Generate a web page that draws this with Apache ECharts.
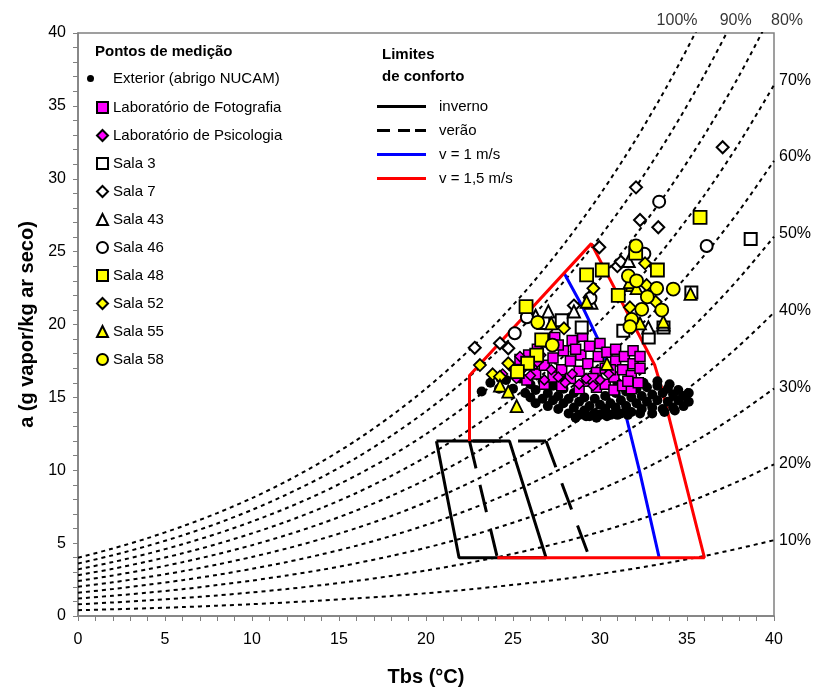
<!DOCTYPE html>
<html><head><meta charset="utf-8">
<script src="https://cdn.jsdelivr.net/npm/echarts@6/dist/echarts.min.js"></script>
<style>html,body{margin:0;padding:0;background:#fff}#c{width:819px;height:690px}</style>
</head><body><div id="c"></div>
<script>
// ---- psychrometric grid ----
const temps = [0,2,4,6,8,10,12,14,16,18,20,22,24,26,28,30,32,34,36,38,40];
const rh10  = [0.40,0.46,0.53,0.61,0.71,0.81,0.93,1.06,1.21,1.37,1.56,1.77,2.01,2.27,2.56,2.89,3.26,3.67,4.12,4.64,5.20];
const rh20  = [0.80,0.93,1.07,1.23,1.41,1.62,1.85,2.12,2.41,2.75,3.12,3.54,4.01,4.54,5.12,5.78,6.52,7.33,8.25,9.27,10.41];
const rh30  = [1.20,1.39,1.60,1.84,2.12,2.43,2.78,3.17,3.62,4.12,4.68,5.31,6.02,6.80,7.69,8.67,9.77,11.00,12.37,13.91,15.61];
const rh40  = [1.60,1.85,2.14,2.46,2.82,3.24,3.70,4.23,4.82,5.49,6.24,7.08,8.02,9.07,10.25,11.56,13.03,14.67,16.50,18.54,20.82];
const rh50  = [2.00,2.31,2.67,3.07,3.53,4.05,4.63,5.29,6.03,6.86,7.80,8.85,10.03,11.34,12.81,14.45,16.29,18.34,20.62,23.18,26.02];
const rh60  = [2.40,2.78,3.20,3.69,4.24,4.86,5.56,6.35,7.24,8.24,9.36,10.62,12.03,13.61,15.37,17.34,19.55,22.00,24.75,27.81,31.23];
const rh70  = [2.80,3.24,3.74,4.30,4.94,5.67,6.48,7.41,8.44,9.61,10.92,12.39,14.04,15.87,17.93,20.23,22.80,25.67,28.87,32.45,36.43];
const rh80  = [3.20,3.70,4.27,4.92,5.65,6.48,7.41,8.46,9.65,10.98,12.48,14.16,16.04,18.14,20.49,23.12,26.06,29.34,33.00,37.08,41.63];
const rh90  = [3.60,4.17,4.81,5.53,6.35,7.28,8.34,9.52,10.85,12.36,14.04,15.93,18.05,20.41,23.06,26.02,29.32,33.01,37.12,41.72,46.84];
const rh100 = [4.00,4.63,5.34,6.15,7.06,8.09,9.26,10.58,12.06,13.73,15.60,17.70,20.05,22.68,25.62,28.91,32.58,36.67,41.25,46.35,52.04];
const rhNames = ['10%','20%','30%','40%','50%','60%','70%','80%','90%','100%'];

// ---- comfort limits ----
const inverno = [[20.6,12],[24.8,12],[26.9,4],[21.9,4],[20.6,12]];
const veraoLeft = [[22.5,12],[24.1,4]];
const veraoRight = [[26.9,12],[29.4,4]];
const veraoTop = [[26.9,12],[22.5,12]];
const vento1 = [[27.95,23.5],[29.0,21.2],[30.0,18.7],[31.4,14.2],[32.3,9.8],[33.4,4.0]];
const vento15 = [[22.5,12],[22.5,16.5],[29.5,25.55],[33.15,17.2],[33.55,15.6],[36.0,4.0],[24.1,4.0]];

// ---- measurement points ----
const exterior = [[23.2,15.4],[23.7,16.0],[24.2,15.6],[24.6,16.2],[25.0,15.6],[25.4,16.3],[25.7,15.3],
 [26.0,15.0],[26.0,15.9],[26.3,14.6],[26.3,15.5],[26.7,14.9],[26.7,16.1],[27.0,14.4],[27.0,15.3],[27.3,14.8],[27.3,15.8],
 [27.6,14.2],[27.6,15.1],[27.9,14.6],[27.9,15.6],[28.2,13.9],[28.2,14.9],[28.5,14.3],[28.5,15.3],[28.8,13.8],[28.8,14.7],
 [29.1,14.1],[29.1,15.0],[29.4,13.7],[29.4,14.4],[29.7,13.9],[29.7,14.9],[30.0,13.8],[30.0,14.5],[30.3,14.2],[30.3,15.1],
 [30.6,13.8],[30.6,14.6],[30.9,14.3],[30.9,15.3],[31.2,13.9],[31.2,14.8],[31.5,14.4],[31.5,15.4],[31.8,14.0],[31.8,15.0],
 [32.1,14.6],[32.1,15.6],[32.4,14.2],[32.4,15.1],[32.7,14.7],[32.7,15.7],[33.0,14.3],[33.0,15.2],[33.3,14.8],[33.3,15.8],
 [33.6,14.2],[33.6,15.3],[33.9,14.7],[33.9,15.6],[34.2,14.3],[34.2,15.2],[34.5,14.8],[34.5,15.5],[34.8,14.4],[34.8,15.1],
 [35.1,14.7],[35.1,15.3],[28.6,13.6],[29.2,13.7],[29.8,13.6],[30.4,13.7],[31.0,13.8],[31.6,13.8],[32.3,13.9],[33.0,13.9],
 [33.7,14.0],[34.3,14.1],[31.0,16.0],[31.7,16.1],[32.5,16.0],[33.3,16.1],[34.0,15.9],[28.0,16.2],[29.2,16.1],[30.2,15.9]];
const labFoto = [[25.3,16.8],[25.4,17.6],[25.8,16.2],[25.9,17.9],[26.3,16.6],[26.4,18.3],[26.8,15.9],[26.8,17.2],[26.9,18.8],[27.3,16.4],
 [27.3,17.7],[27.4,19.1],[27.8,15.8],[27.8,16.9],[27.9,18.2],[28.3,16.3],[28.3,17.5],[28.4,18.9],[28.8,15.6],[28.8,16.8],
 [28.9,17.9],[29.0,19.2],[29.3,16.1],[29.3,17.3],[29.4,18.5],[29.8,15.7],[29.8,16.7],[29.9,17.8],[30.0,18.7],[30.3,15.9],
 [30.3,17.0],[30.4,18.1],[30.8,15.5],[30.8,16.4],[30.9,17.5],[30.9,18.3],[31.3,15.8],[31.3,16.9],[31.4,17.8],[31.8,15.6],
 [31.8,16.5],[31.9,17.3],[31.9,18.2],[32.2,16.0],[32.3,17.0],[32.3,17.8],[28.6,18.3],[27.6,18.6],[26.1,17.3],[29.6,16.3],
 [30.6,16.9],[31.6,16.1]];
const labPsico = [[24.4,16.6],[24.8,17.2],[25.2,16.3],[25.6,17.0],[26.0,16.5],[26.4,17.4],[26.8,16.2],[27.2,16.9],[27.6,16.4],
 [28.0,16.0],[28.4,16.6],[28.8,15.9],[29.2,16.3],[29.6,15.8],[30.0,16.2],[30.5,16.6],[25.4,17.8],[26.6,17.9]];
const sala3 = [[38.66,25.87],[27.8,20.3],[28.95,19.8],[31.34,19.57],[32.8,19.1],[33.65,19.8],[26.74,20.1],[35.25,22.2]];
const sala7 = [[37.05,32.16],[32.07,29.41],[32.3,27.17],[33.35,26.67],[29.96,25.3],[24.25,18.71],[24.73,18.37],[28.5,21.3],
 [31.0,24.0],[31.2,24.3],[22.8,18.4]];
const sala43 = [[27.03,20.9],[28.5,20.9],[31.65,24.35],[32.78,19.8],[33.65,20.0],[26.3,20.6],[29.5,21.5]];
const sala46 = [[33.4,28.43],[36.13,25.39],[32.55,24.85],[25.8,20.5],[25.1,19.4],[29.45,21.8]];
const sala48 = [[35.75,27.35],[29.23,23.4],[30.13,23.74],[33.3,23.74],[31.05,22.0],[32.05,24.9],[25.75,21.22],[26.65,18.94],
 [26.36,17.9],[25.84,17.34],[25.25,16.76]];
const sala52 = [[23.1,17.22],[23.83,16.58],[24.25,16.42],[24.73,17.34],[27.93,19.74],[29.62,22.48],[32.59,24.2],[32.68,22.7],
 [31.72,21.18],[33.2,21.56]];
const sala55 = [[24.25,15.8],[24.73,15.4],[25.21,14.4],[27.2,20.08],[29.23,21.56],[31.82,22.7],[32.3,20.08],[33.64,20.19],
 [35.2,22.1],[30.4,17.3],[31.7,22.9],[32.1,22.5]];
const sala58 = [[32.07,25.39],[31.63,23.33],[33.26,22.48],[34.21,22.43],[32.72,21.9],[32.4,21.04],[33.55,20.99],[31.82,20.35],
 [31.72,19.85],[26.42,20.15],[27.26,18.59],[32.1,23.0]];

const F = '"Liberation Sans", Arial, sans-serif';
const chart = echarts.init(document.getElementById('c'), null, {renderer:'canvas'});

const rhArrays = [rh10,rh20,rh30,rh40,rh50,rh60,rh70,rh80,rh90,rh100];
const endOffsets = [[0,0],[0,-1],[0,-1],[0,-2],[0,-3],[0,-4],[0,-4]];
const series = [];
rhArrays.forEach((arr,i)=>{
  const s = {
    type:'line', name: rhNames[i], data: temps.map((t,k)=>[t,arr[k]]),
    smooth:0.3, symbol:'none', silent:true, z:1,
    lineStyle:{color:'#000', width:2, type:[4,4]}
  };
  if (i < 7) s.endLabel = {show:true, formatter: rhNames[i], distance:5, offset:endOffsets[i], fontSize:16, fontFamily:F, color:'#000'};
  series.push(s);
});
// top labels for 100/90/80 %
series.push({type:'scatter', name:'rhTop', clip:false, silent:true, symbolSize:1, z:1,
  itemStyle:{color:'rgba(0,0,0,0)'},
  data:[{name:rhNames[9], value:[34.43,40.82]},{name:rhNames[8], value:[37.8,40.82]},{name:rhNames[7], value:[40.75,40.82]}],
  label:{show:true, position:'inside', formatter:p=>p.name, fontSize:16, fontFamily:F, color:'#000'}});

const lineBase = {type:'line', symbol:'none', silent:true, z:2};
const dashV = [28,17];
series.push(Object.assign({}, lineBase, {name:'inverno', data:inverno, itemStyle:{color:'#000'}, lineStyle:{color:'#000', width:3}}));
series.push(Object.assign({}, lineBase, {name:'verão', data:veraoLeft, itemStyle:{color:'#000'}, lineStyle:{color:'#000', width:3, type:dashV}}));
series.push(Object.assign({}, lineBase, {name:'verão', data:veraoRight, itemStyle:{color:'#000'}, lineStyle:{color:'#000', width:3, type:dashV}}));
series.push(Object.assign({}, lineBase, {name:'verão', data:veraoTop, itemStyle:{color:'#000'}, lineStyle:{color:'#000', width:3, type:dashV}}));
series.push(Object.assign({}, lineBase, {name:'v = 1 m/s', data:vento1, itemStyle:{color:'#0000ff'}, lineStyle:{color:'#0000ff', width:3}}));
series.push(Object.assign({}, lineBase, {name:'v = 1,5 m/s', data:vento15, itemStyle:{color:'#ff0000'}, lineStyle:{color:'#ff0000', width:3}}));

function sc(name, data, symbol, size, fill, bw){
  return {type:'scatter', name, data, symbol, symbolSize:size, z:3,
    itemStyle:{color:fill, borderColor:'#000', borderWidth:bw, opacity:1}};
}
series.push(sc('Exterior (abrigo NUCAM)', exterior, 'circle', 10, '#000', 0));
series.push(sc('Laboratório de Fotografia', labFoto, 'rect', 10, '#ff00ff', 1.5));
series.push(sc('Laboratório de Psicologia', labPsico, 'diamond', 10, '#ff00ff', 1.5));
series.push(sc('Sala 3', sala3, 'rect', 12, '#fff', 2));
series.push(sc('Sala 7', sala7, 'diamond', 12, '#fff', 2));
series.push(sc('Sala 43', sala43, 'triangle', 12, '#fff', 2));
series.push(sc('Sala 46', sala46, 'circle', 12, '#fff', 2));
series.push(sc('Sala 48', sala48, 'rect', 13, '#ffff00', 1.8));
series.push(sc('Sala 52', sala52, 'diamond', 12, '#ffff00', 1.8));
series.push(sc('Sala 55', sala55, 'triangle', 12, '#ffff00', 1.8));
series.push(sc('Sala 58', sala58, 'circle', 13, '#ffff00', 1.8));

const axisCommon = {
  type:'value', min:0, max:40, interval:5,
  axisLine:{show:true, onZero:false, lineStyle:{color:'#808080', width:1.5}},
  axisTick:{show:true, length:5, lineStyle:{color:'#808080', width:1}},
  minorTick:{show:true, splitNumber:5, length:5, lineStyle:{color:'#808080', width:1}},
  splitLine:{show:false},
  nameLocation:'middle',
  nameTextStyle:{fontSize:20, fontWeight:'bold', color:'#000', fontFamily:F}
};
const legendText = {fontSize:15, fontFamily:F, color:'#000'};
const lineIcon = 'path://M0,0h49v3h-49z';
const dashIcon = 'path://M0,0h13v3h-13zM21,0h12v3h-12zM38,0h11v3h-11z';
const option = {
  animation:false,
  backgroundColor:'#fff',
  grid:{left:78, right:45, top:33, bottom:74, show:true, borderColor:'#808080', borderWidth:1.5,
        containLabel:false, outerBoundsMode:'none'},
  xAxis: Object.assign({}, axisCommon, {name:'Tbs (°C)', nameGap:51,
    axisLabel:{fontSize:16, color:'#000', margin:16, fontFamily:F}}),
  yAxis: Object.assign({}, axisCommon, {name:'a (g vapor/kg ar seco)', nameGap:37,
    axisLabel:{fontSize:16, color:'#000', margin:12, fontFamily:F}}),
  title:[
    {text:'Pontos de medição', left:95, top:44, padding:0, textStyle:{fontSize:15, fontWeight:'bold', fontFamily:F, color:'#000'}},
    {text:'Limites\nde conforto', left:382, top:44, padding:0, textStyle:{fontSize:15, fontWeight:'bold', fontFamily:F, color:'#000', lineHeight:22}}
  ],
  legend:[
    {data:['Exterior (abrigo NUCAM)'], left:87, top:71, orient:'vertical', icon:'circle', itemWidth:7, itemHeight:7,
     padding:0, selectedMode:false, textStyle:Object.assign({padding:[0,0,0,14]}, legendText)},
    {data:['Laboratório de Fotografia','Laboratório de Psicologia','Sala 3','Sala 7','Sala 43','Sala 46','Sala 48','Sala 52','Sala 55','Sala 58'],
     left:96, top:100, orient:'vertical', itemWidth:11, itemHeight:11, itemGap:13, padding:0, selectedMode:false, textStyle:legendText},
    {data:[{name:'inverno', icon:lineIcon},{name:'verão', icon:dashIcon},{name:'v = 1 m/s', icon:lineIcon},{name:'v = 1,5 m/s', icon:lineIcon}],
     left:377, top:99, orient:'vertical', itemWidth:49, itemHeight:3, itemGap:9,
     padding:0, selectedMode:false, textStyle:Object.assign({padding:[0,0,0,8]}, legendText)}
  ],
  series
};
chart.setOption(option);
</script></body></html>
